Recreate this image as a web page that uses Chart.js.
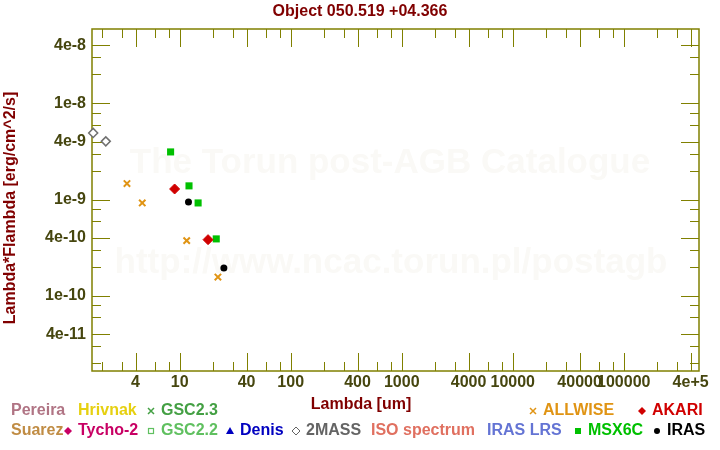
<!DOCTYPE html>
<html>
<head>
<meta charset="utf-8">
<script src="https://cdn.jsdelivr.net/npm/chart.js@4.4.1/dist/chart.umd.min.js"></script>
<style>
  html, body { margin: 0; padding: 0; background: #fff; }
  canvas { display: block; }
</style>
</head>
<body>
<canvas id="sed" width="720" height="450"></canvas>
<script>
// photometry (wavelength in um, lambda*F_lambda in erg/cm^2/s)
const twomassX = [1.662, 2.159];
const twomassY = [4.93e-9, 4.03e-9];
const allwiseX = [3.35, 4.6, 11.56, 22.09];
const allwiseY = [1.47e-9, 9.24e-10, 3.75e-10, 1.57e-10];
const akariX = [9, 18];
const akariY = [1.29e-9, 3.84e-10];
const msxX = [8.28, 12.13, 14.65, 21.34];
const msxY = [3.13e-9, 1.39e-9, 9.24e-10, 3.91e-10];
const irasX = [12, 25];
const irasY = [9.47e-10, 1.95e-10];

// axis ticks
const xMajor = [4, 10, 40, 100, 400, 1000, 4000, 10000, 40000, 100000, 400000];
const xTickLabels = ["4", "10", "40", "100", "400", "1000", "4000", "10000", "40000", "100000", "4e+5"];
const xMinor = [2, 3, 6, 8, 20, 30, 60, 80, 200, 300, 600, 800, 2000, 3000, 6000, 8000,
  20000, 30000, 60000, 80000, 200000, 300000];
const yMajor = [4e-11, 1e-10, 4e-10, 1e-9, 4e-9, 1e-8, 4e-8];
const yTickLabels = ["4e-11", "1e-10", "4e-10", "1e-9", "4e-9", "1e-8", "4e-8"];
const yMinor = [2e-11, 3e-11, 6e-11, 8e-11, 2e-10, 3e-10, 6e-10, 8e-10, 2e-9, 3e-9, 6e-9, 8e-9,
  2e-8, 3e-8];

const FONT = "'Liberation Sans', Arial, sans-serif";
const OLIVE = "#808000";
const MAROON = "#800000";

function pts(xs, ys) {
  return xs.map((x, i) => ({ x: x, y: ys[i] }));
}

// legend entries: text, colour, marker, text x, row
const legendItems = [
  { text: "Pereira", color: "#b07484", marker: null, x: 11, row: 0 },
  { text: "Hrivnak", color: "#e6d010", marker: null, x: 78, row: 0 },
  { text: "GSC2.3", color: "#44a044", marker: "cross", x: 161, row: 0 },
  { text: "ALLWISE", color: "#e09414", marker: "cross", x: 543, row: 0 },
  { text: "AKARI", color: "#d00000", marker: "diamond", x: 652, row: 0 },
  { text: "Suarez", color: "#c08c44", marker: null, x: 11, row: 1 },
  { text: "Tycho-2", color: "#c80064", marker: "diamond", x: 78, row: 1 },
  { text: "GSC2.2", color: "#60c060", marker: "square", x: 161, row: 1 },
  { text: "Denis", color: "#0000c0", marker: "triangle", x: 240, row: 1 },
  { text: "2MASS", color: "#646464", marker: "odiamond", x: 306, row: 1 },
  { text: "ISO spectrum", color: "#e07060", marker: null, x: 371, row: 1 },
  { text: "IRAS LRS", color: "#6474d4", marker: null, x: 487, row: 1 },
  { text: "MSX6C", color: "#00c000", marker: "fsquare", x: 588, row: 1 },
  { text: "IRAS", color: "#000000", marker: "dot", x: 667, row: 1 },
];

function drawMarker(ctx, kind, cx, cy, color) {
  ctx.save();
  ctx.fillStyle = color;
  ctx.strokeStyle = color;
  ctx.lineWidth = 1.5;
  ctx.beginPath();
  if (kind === "cross") {
    ctx.moveTo(cx - 3, cy - 3); ctx.lineTo(cx + 3, cy + 3);
    ctx.moveTo(cx + 3, cy - 3); ctx.lineTo(cx - 3, cy + 3);
    ctx.stroke();
  } else if (kind === "diamond") {
    ctx.moveTo(cx, cy - 4); ctx.lineTo(cx + 4, cy); ctx.lineTo(cx, cy + 4); ctx.lineTo(cx - 4, cy);
    ctx.closePath(); ctx.fill();
  } else if (kind === "odiamond") {
    ctx.lineWidth = 1;
    ctx.moveTo(cx, cy - 4); ctx.lineTo(cx + 4, cy); ctx.lineTo(cx, cy + 4); ctx.lineTo(cx - 4, cy);
    ctx.closePath(); ctx.stroke();
  } else if (kind === "square") {
    ctx.lineWidth = 1.2;
    ctx.strokeRect(cx - 2.5, cy - 2.5, 5, 5);
  } else if (kind === "fsquare") {
    ctx.fillRect(cx - 3, cy - 3, 6, 6);
  } else if (kind === "triangle") {
    ctx.moveTo(cx, cy - 4); ctx.lineTo(cx + 4, cy + 3); ctx.lineTo(cx - 4, cy + 3);
    ctx.closePath(); ctx.fill();
  } else if (kind === "dot") {
    ctx.arc(cx, cy, 3, 0, Math.PI * 2); ctx.fill();
  }
  ctx.restore();
}

const decor = {
  id: "decor",
  beforeDatasetsDraw(chart) {
    const ctx = chart.ctx;
    const a = chart.chartArea;
    ctx.save();
    ctx.fillStyle = "#faf9f6";
    ctx.font = "bold 35px " + FONT;
    ctx.textAlign = "center";
    ctx.textBaseline = "middle";
    ctx.fillText("The Torun post-AGB Catalogue", 390, 163);
    ctx.fillText("http://www.ncac.torun.pl/postagb", 391, 263);
    ctx.restore();

    // frame and ticks on all four sides
    const xs = chart.scales.x, ys = chart.scales.y;
    ctx.save();
    ctx.strokeStyle = OLIVE;
    ctx.lineWidth = 1;
    ctx.beginPath();
    const tick = (v, len, horiz) => {
      if (horiz) {
        const px = Math.round(xs.getPixelForValue(v)) + 0.5;
        ctx.moveTo(px, a.bottom); ctx.lineTo(px, a.bottom - len);
        ctx.moveTo(px, a.top); ctx.lineTo(px, a.top + len);
      } else {
        const py = Math.round(ys.getPixelForValue(v)) + 0.5;
        ctx.moveTo(a.left, py); ctx.lineTo(a.left + len, py);
        ctx.moveTo(a.right, py); ctx.lineTo(a.right - len, py);
      }
    };
    xMajor.forEach((v) => tick(v, 18, true));
    xMinor.forEach((v) => tick(v, 9, true));
    yMajor.forEach((v) => tick(v, 18, false));
    yMinor.forEach((v) => tick(v, 9, false));
    ctx.stroke();
    ctx.lineWidth = 1.5;
    ctx.strokeRect(a.left, a.top, a.right - a.left, a.bottom - a.top);
    ctx.restore();
  },
  afterDraw(chart) {
    const ctx = chart.ctx;
    ctx.save();
    ctx.fillStyle = MAROON;
    ctx.font = "bold 16px " + FONT;
    ctx.textAlign = "center";
    ctx.textBaseline = "middle";
    ctx.fillText("Object 050.519 +04.366", 360, 12);
    ctx.fillText("Lambda [um]", 361, 405);
    ctx.save();
    ctx.translate(11, 208);
    ctx.rotate(-Math.PI / 2);
    ctx.fillText("Lambda*Flambda [erg/cm^2/s]", 0, 0);
    ctx.restore();

    ctx.textAlign = "left";
    legendItems.forEach((item) => {
      const cy = item.row === 0 ? 411 : 431;
      ctx.fillStyle = item.color;
      ctx.fillText(item.text, item.x, cy);
      if (item.marker) drawMarker(ctx, item.marker, item.x - 10, cy, item.color);
    });
    ctx.restore();
  },
};

new Chart(document.getElementById("sed"), {
  type: "scatter",
  data: {
    datasets: [
      {
        label: "2MASS",
        data: pts(twomassX, twomassY),
        pointStyle: "rectRot",
        pointRadius: 4.5,
        backgroundColor: "#ffffff",
        borderColor: "#707070",
        borderWidth: 1.5,
        clip: false,
      },
      {
        label: "ALLWISE",
        data: pts(allwiseX, allwiseY),
        pointStyle: "crossRot",
        pointRadius: 4.5,
        borderColor: "#e09414",
        borderWidth: 2,
        clip: false,
      },
      {
        label: "AKARI",
        data: pts(akariX, akariY),
        pointStyle: "rectRot",
        pointRadius: 5,
        backgroundColor: "#d00000",
        borderColor: "#d00000",
        borderWidth: 1,
        clip: false,
      },
      {
        label: "MSX6C",
        data: pts(msxX, msxY),
        pointStyle: "rect",
        pointRadius: 5,
        backgroundColor: "#00c000",
        borderColor: "#00c000",
        borderWidth: 0,
        clip: false,
      },
      {
        label: "IRAS",
        data: pts(irasX, irasY),
        pointStyle: "circle",
        pointRadius: 3.5,
        backgroundColor: "#000000",
        borderColor: "#000000",
        borderWidth: 0,
        clip: false,
      },
    ],
  },
  options: {
    responsive: false,
    animation: false,
    layout: { padding: { top: 29, right: 21, left: 0, bottom: 0 } },
    plugins: {
      legend: { display: false },
      title: { display: false },
      tooltip: { enabled: false },
    },
    scales: {
      x: {
        type: "logarithmic",
        min: 1.622,
        max: 476000,
        grid: { display: false, drawTicks: false },
        border: { display: false },
        afterBuildTicks: (scale) => { scale.ticks = xMajor.map((v) => ({ value: v })); },
        afterFit: (scale) => { scale.height = 79; },
        ticks: {
          autoSkip: false,
          maxRotation: 0,
          padding: 2,
          color: "#46460f",
          font: { family: FONT, size: 16, weight: "bold" },
          callback: (v, i) => xTickLabels[i],
        },
      },
      y: {
        type: "logarithmic",
        min: 1.66e-11,
        max: 5.92e-8,
        grid: { display: false, drawTicks: false },
        border: { display: false },
        afterBuildTicks: (scale) => { scale.ticks = yMajor.map((v) => ({ value: v })); },
        afterFit: (scale) => { scale.width = 92; },
        ticks: {
          autoSkip: false,
          padding: 6,
          color: "#46460f",
          font: { family: FONT, size: 16, weight: "bold" },
          callback: (v, i) => yTickLabels[i],
        },
      },
    },
  },
  plugins: [decor],
});
</script>
</body>
</html>
